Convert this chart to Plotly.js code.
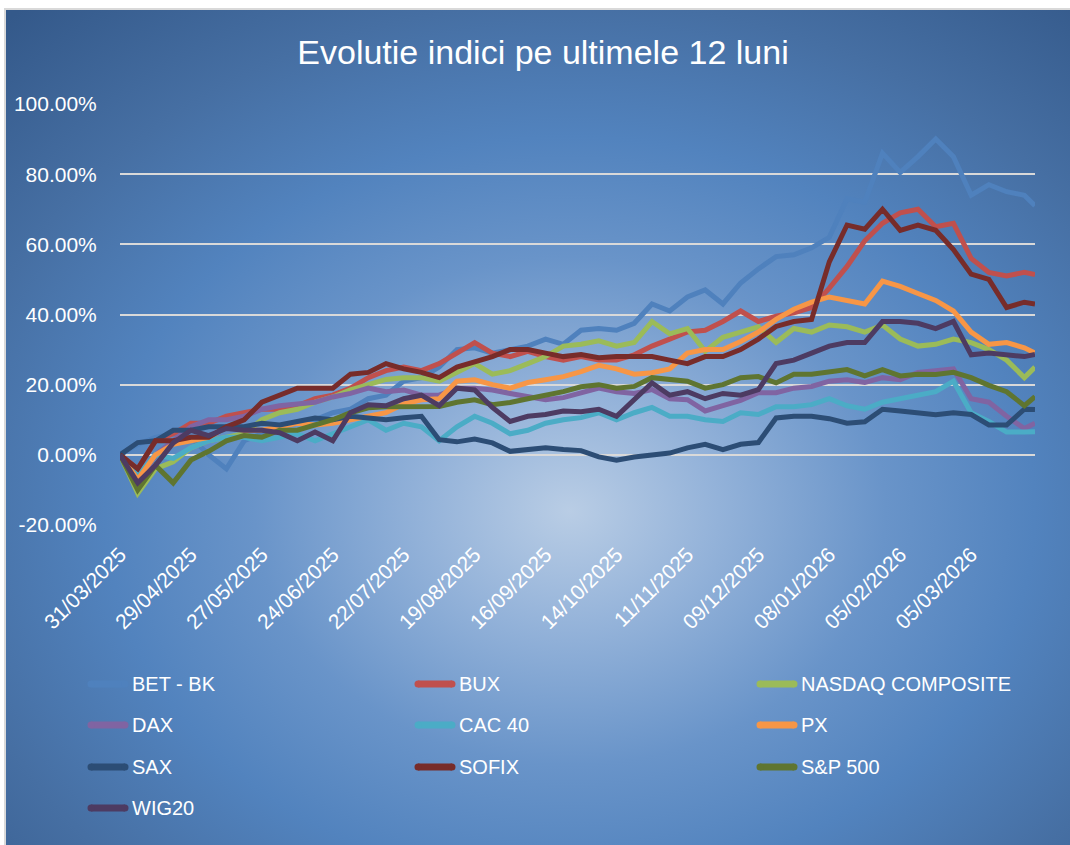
<!DOCTYPE html>
<html>
<head>
<meta charset="utf-8">
<script src="https://cdn.plot.ly/plotly-3.0.1.min.js"></script>
<style>
  html, body { margin: 0; padding: 0; background: #ffffff; width: 1070px; height: 845px; overflow: hidden; }
  #bg {
    position: absolute; left: 4px; top: 8px; width: 1066px; height: 837px; box-sizing: border-box;
    border-left: 2px solid #d9d9d9; border-top: 2px solid #d9d9d9;
    background: radial-gradient(ellipse 78% 80% at 53% 60%, #b9cde5 0%, #93b2d9 18%, #6994c9 38%, #5283be 56%, #466fa3 76%, #34598a 100%);
  }
  #chart { position: absolute; left: 0; top: 0; width: 1070px; height: 845px; }
</style>
</head>
<body>
<div id="bg"></div>
<div id="chart"></div>
<script>
// trading-day index of each sampled observation (0 = 31/03/2025)
const tradingDay = [0,5,10,15,20,25,30,35,40,45,50,55,60,65,70,75,80,85,90,95,100,105,110,115,120,125,130,135,140,145,150,155,160,165,170,175,180,185,190,195,200,205,210,215,220,225,230,235,240,245,250,255,258];

// tick labels (every 20th trading day)
const xTickDays = [0,20,40,60,80,100,120,140,160,180,200,220,240];
const xTickLabels = ["31/03/2025","29/04/2025","27/05/2025","24/06/2025","22/07/2025","19/08/2025","16/09/2025","14/10/2025","11/11/2025","09/12/2025","08/01/2026","05/02/2026","05/03/2026"];
const yTickVals = [-20,0,20,40,60,80,100];
const yTickLabels = ["-20.00%","0.00%","20.00%","40.00%","60.00%","80.00%","100.00%"];

// series values, % change since 31/03/2025
const betBK  = [0,3,5,6,5,0,-4,4,6,8,9,10,12,13,16,17,21,22,25,30,30.5,29,30,31,33,31.5,35.5,36,35.5,37.5,43,41,45,47,43,49,53,56.5,57,59,62,73,72,86,80.5,85,90,85,74,77,75,74,71];
const bux    = [0,-4,4,6,9,9,11,12,13,13,14,16,17,19,22,24,25,24,26,29,32,29,28,29.5,28,27,28,27,27,28.5,31,33,35,35.5,38,41,38,39.5,40.5,42,47.5,53.7,61,66,69,70,65,66,56,52,51,52,51.4];
const nasdaq = [0,-11,-4,-2,2,4,5,6,10,12,13,15,16.5,18.5,20,21.5,22,22,21,23.5,26,23,24,26,28,31,31.5,32.5,31,32,38,34.5,36,29.5,33.5,35,36.5,32,36,35,37,36.5,35,37,33,31,31.5,33,32,30,27,22,25];
const dax    = [0,-8,0,4,8,10,10,11,13,14,14.5,15,16.5,17.5,19,18,18.5,17,17,19,19,18.5,17.5,16.5,15.7,16.3,17.7,19,18,17.5,18.6,16,15.7,12.5,14,15.5,17.7,17.7,19,19.5,21,21.4,20.6,22,21.4,23.5,24,24.5,16,15,11,7.5,9];
const cac40  = [0,-6,0,-1,2,4,5,5,4,5,6,4,6,8,10,7,9,8,4,8,11,9,6,7,9,10,10.6,12,10,12,13.5,11,11,10,9.5,12,11.5,13.7,13.7,14.3,16,14,13,15,16,17,18,21,12,9.5,6.5,6.5,6.6];
const px     = [0,-7,0,3,4,5,8,7,7,8,9,8.5,9,10,11,12,14.5,15.7,16,21,21.4,20,19,20.6,21.4,22.3,23.7,25.5,24.5,23,23.4,24.5,29,30,30,32.3,35,38.6,41.5,43.5,45,44,43,49.5,48,46,44,41,35,31.5,32,30.5,29];
const sax    = [0,3.5,4,7,7,8,8,8,9,8.5,9.5,10.5,10,11,10.5,10,10.6,11,4.3,3.7,4.5,3.4,1,1.4,2,1.5,1.2,-0.6,-1.5,-0.6,0,0.5,2,3,1.5,3,3.5,10.5,11,11,10.3,9,9.4,13,12.5,12,11.4,12,11.5,8.5,8.5,13,12.9];
const sofix  = [0,-4,4,4,5,5,8,10,15,17,19,19,19,23,23.5,26,24.5,23.5,22,25,26.5,28,30,30,29,28,28.6,27.7,28,28,28,27,26,28,28,30,33,36.6,38,38.6,55,65.5,64.3,70,64,65.5,64,58.5,51.5,50,42,43.5,43];
const sp500  = [0,-10,-3,-8,-1.5,1,4,5.5,5,7,7,8.6,10,12,13.4,13.7,13.7,14,13.8,15,15.7,14.3,14.9,16,17,18,19.4,20,19,19.5,22,21.5,21,19,20,22,22.3,20.5,23,23,23.7,24.3,22.5,24.3,22.5,23,22.9,23.5,22,19.8,18,14,16.6];
const wig20  = [0,-8,-3,3.4,7,5.5,7.5,7,7,6.3,4,6.5,4,12,14.3,14,16,17,14,19,18.5,13.5,9.5,11,11.5,12.5,12.3,13,11,15.7,20.5,17,18,16,17.5,17,18.6,26,27,29,31,32,32,38,38,37.5,36,38,28.5,29,28.5,28,28.6];

const seriesNames  = ["BET - BK","BUX","NASDAQ COMPOSITE","DAX","CAC 40","PX","SAX","SOFIX","S&P 500","WIG20"];
const seriesValues = [betBK, bux, nasdaq, dax, cac40, px, sax, sofix, sp500, wig20];
const seriesColors = ["#4F81BD","#C0504D","#9BBB59","#8064A2","#4BACC6","#F79646","#2C4D75","#772C2A","#5F7530","#4D3B62"];

// legend grid placement (column, row)
const legendCols = [0,1,2,0,1,2,0,1,2,0];
const legendRows = [0,0,0,1,1,1,2,2,2,3];
const colPx = [88, 415, 757];
const rowPx = [684, 725, 767, 808];

const plotL = 120, plotR = 1035, plotT = 104, plotB = 525;
const FONT = "Liberation Sans, Arial, sans-serif";
const toPaperX = p => (p - plotL) / (plotR - plotL);
const toPaperY = p => (plotB - p) / (plotB - plotT);

const traces = seriesNames.map((n, i) => ({
  type: "scatter", mode: "lines", name: n,
  x: tradingDay, y: seriesValues[i],
  line: { color: seriesColors[i], width: 5, shape: "linear" },
  showlegend: false,
  hoverinfo: "skip"
}));

const shapes = [], annotations = [];
seriesNames.forEach((n, i) => {
  const lx = colPx[legendCols[i]], ly = rowPx[legendRows[i]];
  shapes.push({
    type: "line", xref: "paper", yref: "paper",
    x0: toPaperX(lx + 3), x1: toPaperX(lx + 37), y0: toPaperY(ly), y1: toPaperY(ly),
    line: { color: seriesColors[i], width: 7 }
  });
  shapes.push({
    type: "circle", xref: "paper", yref: "paper", fillcolor: seriesColors[i], line: { width: 0 },
    x0: toPaperX(lx - 0.5), x1: toPaperX(lx + 6.5), y0: toPaperY(ly - 3.5), y1: toPaperY(ly + 3.5)
  });
  shapes.push({
    type: "circle", xref: "paper", yref: "paper", fillcolor: seriesColors[i], line: { width: 0 },
    x0: toPaperX(lx + 33.5), x1: toPaperX(lx + 40.5), y0: toPaperY(ly - 3.5), y1: toPaperY(ly + 3.5)
  });
  annotations.push({
    text: n, xref: "paper", yref: "paper", x: toPaperX(lx + 42), y: toPaperY(ly),
    xanchor: "left", yanchor: "middle", showarrow: false,
    font: { family: FONT, size: 20, color: "#ffffff" }
  });
});

const layout = {
  width: 1070, height: 845,
  paper_bgcolor: "rgba(0,0,0,0)", plot_bgcolor: "rgba(0,0,0,0)",
  margin: { l: plotL, r: 1070 - plotR, t: plotT, b: 845 - plotB, pad: 0 },
  font: { family: FONT, color: "#ffffff", size: 20 },
  title: { text: "Evolutie indici pe ultimele 12 luni", font: { family: FONT, size: 34, color: "#ffffff" },
           xref: "container", x: 543 / 1070, xanchor: "center", yref: "container", y: 1 - 52 / 845, yanchor: "middle" },
  xaxis: {
    range: [0, 258], tickvals: xTickDays, ticktext: xTickLabels, tickangle: -45,
    showgrid: false, zeroline: false, showline: false, ticks: "outside", ticklen: 8, tickcolor: "rgba(0,0,0,0)",
    tickfont: { family: FONT, size: 21, color: "#ffffff" }, fixedrange: true
  },
  yaxis: {
    range: [-20, 100], tickvals: yTickVals, ticktext: yTickLabels,
    showgrid: true, gridcolor: "#d9d9d9", gridwidth: 2, zeroline: false, showline: false,
    ticks: "outside", ticklen: 18, tickcolor: "rgba(0,0,0,0)",
    tickfont: { family: FONT, size: 21, color: "#ffffff" }, fixedrange: true
  },
  showlegend: false,
  shapes: shapes,
  annotations: annotations
};

Plotly.newPlot("chart", traces, layout, { displayModeBar: false, staticPlot: true });
</script>
</body>
</html>
